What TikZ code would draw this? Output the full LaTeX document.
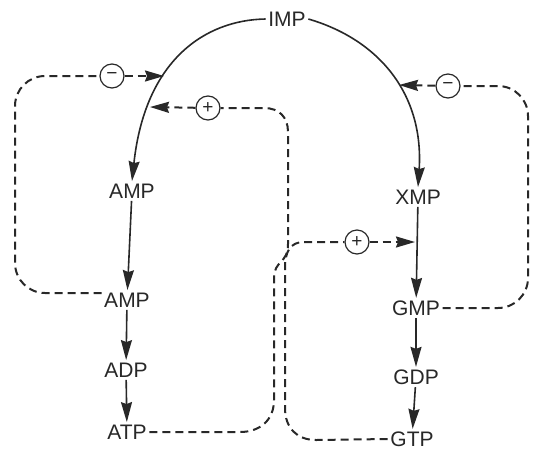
\documentclass[tikz,border=0pt]{standalone}
\usepackage{fontspec}
\setmainfont{Liberation Sans}
\usetikzlibrary{arrows.meta}
\definecolor{ink}{HTML}{282828}
\begin{document}
\begin{tikzpicture}[x=1pt,y=-1pt,
  lbl/.style={font=\fontsize{21}{23}\selectfont, text=ink, inner sep=2.5pt},
  flow/.style={draw=ink, line width=1.6pt, -{Stealth[length=20pt,width=11pt,inset=2pt]}},
  dsh/.style={draw=ink, line width=2pt, dash pattern=on 8pt off 5pt},
  dsharrow/.style={dsh, -{Stealth[length=19pt,width=11pt,inset=2pt]}},
  sign/.style={circle, draw=ink, line width=1.2pt, minimum size=24pt, inner sep=0pt, font=\fontsize{19}{19}\selectfont, text=ink}]
\useasboundingbox (0,0) rectangle (534,450);
% metabolites
\node[lbl] (imp) at (287,19) {IMP};
\node[lbl] (amp1) at (132,191) {AMP};
\node[lbl] (amp2) at (127,300) {AMP};
\node[lbl] (adp) at (126,370) {ADP};
\node[lbl] (atp) at (127,432) {ATP};
\node[lbl] (xmp) at (418,197) {XMP};
\node[lbl] (gmp) at (416,308) {GMP};
\node[lbl] (gdp) at (416,377) {GDP};
\node[lbl] (gtp) at (412,439) {GTP};
% regulation signs
\node[sign] (m1) at (112,76) {−};
\node[sign] (p1) at (208,108) {+};
\node[sign] (m2) at (448,86) {−};
\node[sign] (p2) at (357,242) {+};
% target points on the pathway arrows
\coordinate (tipA1) at (164,76);
\coordinate (tipA2) at (150,107);
\coordinate (tipX) at (399,85);
\coordinate (tipG) at (415,242);
% main pathway
\draw[flow] (imp.west) .. controls (205,20) and (145,60) .. (amp1.north);
\draw[flow] (imp.east) .. controls (380,40) and (424,95) .. (xmp.north);
\draw[flow] (amp1) -- (amp2);
\draw[flow] (amp2) -- (adp);
\draw[flow] (adp) -- (atp);
\draw[flow] (xmp) -- (gmp);
\draw[flow] (gmp) -- (gdp);
\draw[flow] (gdp) -- (gtp);
% feedback loops
\draw[dsh, rounded corners=30pt] ([yshift=7pt]amp2.west) -| (15,76) -- (m1);
\draw[dsharrow] (m1) -- (tipA1);
\draw[dsh] (atp.east) -- (240,432) .. controls (260,432) and (274,420) .. (274,400)
  -- (274,278) .. controls (274,260) and (288,264) .. (288,244)
  -- (288,132) .. controls (288,117) and (279,108) .. (264,108) -- (p1);
\draw[dsharrow] (p1) -- (tipA2);
\draw[dsh] (gtp.west) -- (316,440) .. controls (297,440) and (285,428) .. (285,408)
  -- (285,268) .. controls (285,252) and (290,242) .. (304,242) -- (p2);
\draw[dsharrow] (p2) -- (tipG);
\draw[dsh, rounded corners=30pt] (gmp.east) -| (528,86) -- (m2);
\draw[dsharrow] (m2) -- (tipX);
\end{tikzpicture}
\end{document}
